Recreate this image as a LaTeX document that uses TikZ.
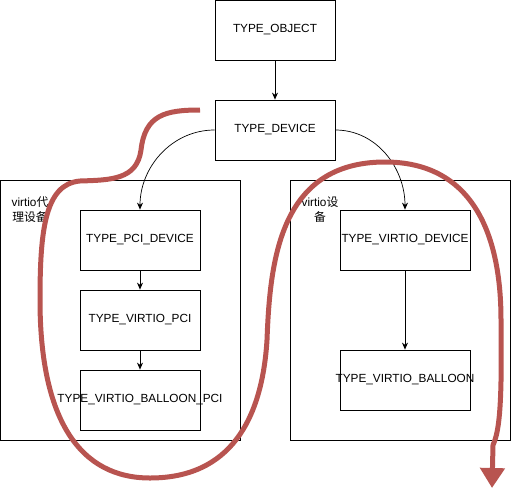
\documentclass[tikz,border=0pt]{standalone}
\usepackage{fontspec}
\setmainfont{Liberation Sans}
\newfontfamily\cjkfont{Noto Sans CJK SC}
\usetikzlibrary{arrows.meta}
\definecolor{loopred}{HTML}{B85450}
\newcommand{\tname}[1]{\makebox[0pt]{#1}}

\begin{document}
\begin{tikzpicture}[x=1pt, y=-1pt,
  typebox/.style={draw, line width=0.8pt, minimum width=120pt, minimum height=60pt, inner sep=0pt},
  groupbox/.style={draw, line width=0.8pt, inner sep=0pt},
  link/.style={line width=0.7pt, -{Stealth[length=7pt,width=6pt]}},
  font=\fontsize{11.8}{15}\selectfont]
  \useasboundingbox (0,0) rectangle (511,488);

  % Group frames
  \node[groupbox, minimum width=240pt, minimum height=260pt] (proxy) at (120,310) {};
  \node[groupbox, minimum width=220pt, minimum height=260pt] (vdev) at (400,310) {};
  \node[align=center, inner sep=0pt] (proxylabel) at (30,210) {virtio\cjkfont 代\\\cjkfont 理设备};
  \node[align=center, inner sep=0pt] (vdevlabel) at (320,210) {virtio\cjkfont 设\\\cjkfont 备};

  % Type boxes
  \node[typebox] (object) at (275,30) {\tname{TYPE\_OBJECT}};
  \node[typebox] (device) at (275,130) {\tname{TYPE\_DEVICE}};
  \node[typebox] (pcidev) at (140,240) {\tname{TYPE\_PCI\_DEVICE}};
  \node[typebox] (vpci) at (140,320) {\tname{TYPE\_VIRTIO\_PCI}};
  \node[typebox] (balpci) at (140,400) {\tname{TYPE\_VIRTIO\_BALLOON\_PCI}};
  \node[typebox, minimum width=130pt] (vdevice) at (405,240) {\tname{TYPE\_VIRTIO\_DEVICE}};
  \node[typebox, minimum width=130pt] (balloon) at (405,380) {\tname{TYPE\_VIRTIO\_BALLOON}};

  % Inheritance links
  \draw[link] (object) -- (device);
  \draw[link] (device.west) to[out=180, in=90] (pcidev.north);
  \draw[link] (device.east) to[out=0, in=90] (vdevice.north);
  \draw[link] (pcidev) -- (vpci);
  \draw[link] (vpci) -- (balpci);
  \draw[link] (vdevice) -- (balloon);

  % Red loop
  \coordinate (loopstart) at (200,110);
  \coordinate (loopend) at (492,488);
  \draw[loopred, line width=5pt, line join=round,
        -{Triangle[length=20pt,width=24pt]}]
    (loopstart) .. controls (165,110) and (145,115) .. (141,150)
    .. controls (137,180) and (110,180) .. (80,181)
    .. controls (45,184) and (40,230) .. (40,300)
    .. controls (40,420) and (80,478) .. (150,478)
    .. controls (230,478) and (262,420) .. (267,340)
    .. controls (270,260) and (280,162) .. (385,162)
    .. controls (470,162) and (501,230) .. (501,320)
    .. controls (502,400) and (500,430) .. (493,445)
    -- (loopend);
\end{tikzpicture}
\end{document}
